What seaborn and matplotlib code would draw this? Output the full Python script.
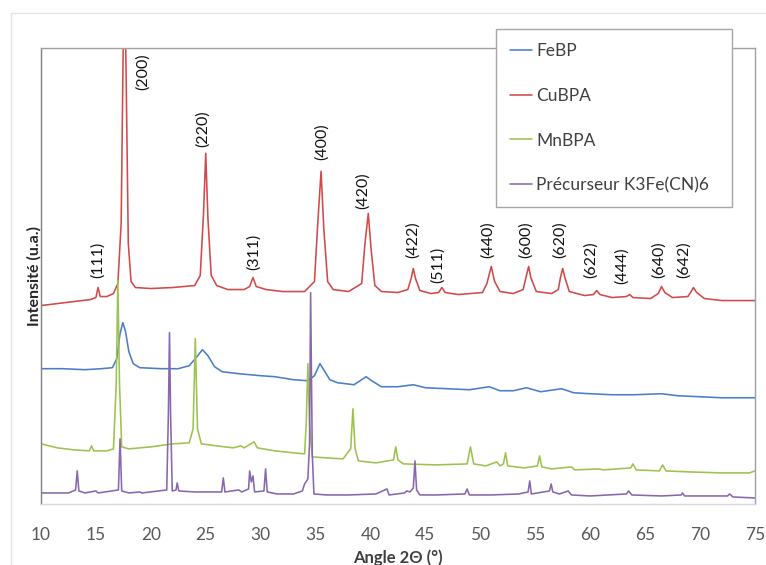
import matplotlib
matplotlib.use("Agg")
import matplotlib.pyplot as plt
from matplotlib.patches import Rectangle
import seaborn as sns
import pandas as pd

# ---------------- data ----------------
series_names = ["FeBP", "CuBPA", "MnBPA", "Précurseur K3Fe(CN)6"]
series_colors = ["#4A7EC7", "#D2494A", "#9DC24E", "#8867AE"]

febp_x = [10, 12, 14, 15.5, 16.5, 16.9, 17.2, 17.45, 17.7, 18.0, 18.4, 19, 21, 22.5, 23.5, 24.2, 24.7,
          25.2, 25.8, 26.5, 28, 30, 31.3, 33, 34.3, 34.9, 35.4, 35.8, 36.3, 37, 38.5, 39.2, 39.6, 40.1,
          41, 42.5, 43.9, 45, 47, 49, 50.8, 51.8, 53, 54.2, 55.5, 57.4, 58.5, 60, 62, 64, 66.5, 68, 70, 72, 75]
febp_y = [135, 135, 134, 135, 136, 145, 170, 181, 172, 152, 140, 136, 135, 135, 138, 147, 154,
          148, 137, 132, 130, 128, 127, 124, 123, 128, 140, 133, 124, 121, 119, 124, 127, 123,
          117, 117, 119, 116, 115, 114, 117, 113, 113, 116, 112, 115, 111, 110, 109, 109, 110, 108, 107, 106, 106]

cubpa_x = [10.0, 11.5, 13.0, 14.5, 15.0, 15.2, 15.4, 16.0, 16.6, 17.0, 17.3, 17.5, 17.6, 17.75, 17.95,
           18.2, 18.6, 20, 22, 24.0, 24.5, 24.8, 25.0, 25.2, 25.5, 26.0, 27, 28.5, 29.0, 29.3, 29.6,
           30.5, 32, 34, 34.9, 35.2, 35.5, 35.75, 36.1, 36.6, 38, 39.2, 39.5, 39.8, 40.05, 40.4, 41,
           42.5, 43.4, 43.7, 43.9, 44.1, 44.5, 45.5, 46.2, 46.5, 46.8, 48, 50.2, 50.6, 51.0, 51.3,
           51.8, 53, 53.9, 54.2, 54.4, 54.6, 55.1, 56.5, 57.1, 57.3, 57.5, 57.7, 58.1, 59.5, 60.3,
           60.6, 60.9, 62, 63.3, 63.6, 63.9, 65.5, 66.2, 66.5, 66.8, 67.5, 68.9, 69.2, 69.4, 69.7,
           70.4, 72, 75]
cubpa_y = [198, 200, 202, 204, 206, 216, 207, 207, 210, 220, 280, 470, 540, 430, 260,
           222, 216, 215, 216, 218, 228, 290, 350, 285, 228, 218, 214, 214, 217, 226, 217,
           214, 212, 212, 222, 280, 332, 275, 222, 214, 212, 220, 260, 290, 255, 218, 212,
           211, 214, 225, 235, 225, 213, 210, 211, 216, 211, 209, 211, 220, 237, 222,
           212, 210, 214, 228, 237, 226, 212, 210, 214, 226, 235, 226, 212, 208, 209,
           213, 209, 206, 207, 209, 206, 205, 210, 217, 211, 206, 207, 212, 216, 211,
           205, 203, 203]

mnbpa_x = [10, 11.5, 13, 14.4, 14.6, 14.8, 16.0, 16.6, 16.85, 17.0, 17.15, 17.35, 18, 20, 22, 23.5,
           23.85, 24.05, 24.25, 24.6, 26, 27.5, 28.2, 28.5, 29.4, 29.7, 31.3, 33, 34.0, 34.15, 34.3,
           34.45, 34.7, 36, 37.5, 38.2, 38.4, 38.6, 38.9, 40.5, 42.1, 42.3, 42.5, 43, 46, 48.8, 49.1,
           49.4, 50.5, 51.5, 51.8, 52.1, 52.3, 52.5, 54, 55.2, 55.4, 55.6, 56.5, 58.3, 58.6, 60.8,
           61.2, 63.7, 63.9, 64.2, 66.3, 66.6, 66.9, 69, 72, 74.5, 75]
mnbpa_y = [60, 56, 54, 53, 58, 53, 53, 55, 120, 223, 120, 57, 55, 57, 60, 61,
           75, 165, 75, 60, 58, 56, 58, 56, 62, 56, 53, 51, 50, 80, 140,
           80, 47, 46, 45, 55, 95, 55, 43, 41, 44, 57, 44, 40, 39, 40, 57,
           40, 38, 42, 38, 40, 51, 38, 36, 38, 48, 37, 35, 37, 34, 35,
           34, 36, 40, 34, 33, 39, 33, 32, 31, 31, 33]

prec_x = [10, 12.5, 13.15, 13.3, 13.45, 14, 15, 15.2, 17.05, 17.2, 17.35, 18, 19, 19.2, 21.45, 21.6,
          21.7, 21.8, 21.95, 22.3, 22.4, 22.55, 24, 26.45, 26.6, 26.75, 28, 28.3, 28.9, 29.0, 29.15,
          29.3, 29.45, 30.3, 30.45, 30.6, 31.5, 33, 33.8, 34.0, 34.3, 34.45, 34.55, 34.7, 34.85, 36,
          38, 40.5, 41.5, 41.7, 43.1, 43.3, 43.6, 43.9, 44.05, 44.2, 44.5, 46, 48.6, 48.8, 49.0, 51,
          53.5, 54.35, 54.5, 54.65, 56.3, 56.45, 56.6, 57.2, 58, 58.3, 60, 63.3, 63.5, 63.8, 66.5,
          68.3, 68.4, 68.6, 72.5, 72.7, 73, 75]
prec_y = [11, 11, 14, 33, 13, 11, 13, 11, 14, 65, 13, 11, 12, 11, 14, 90,
          171, 90, 13, 14, 21, 13, 12, 12, 26, 12, 14, 12, 15, 33, 22,
          28, 12, 13, 35, 12, 10, 10, 13, 20, 25, 60, 211, 50, 10, 9,
          9, 10, 15, 9, 11, 13, 12, 16, 43, 14, 9, 9, 10, 15, 9, 9,
          10, 12, 23, 10, 13, 20, 12, 10, 13, 9, 8, 10, 13, 9, 8,
          9, 11, 8, 8, 10, 7, 6]

peak_labels = ["(111)", "(200)", "(220)", "(311)", "(400)", "(420)", "(422)", "(511)",
               "(440)", "(600)", "(620)", "(622)", "(444)", "(640)", "(642)"]
label_x = [15.18, 19.27, 24.73, 29.36, 35.55, 39.27, 43.82, 46.09,
           50.64, 54.18, 57.27, 60.09, 62.91, 66.27, 68.55]
label_y = [226, 413, 356, 233, 343, 294, 245, 221,
           245, 245, 245, 226, 220, 226, 226]

x_ticks = [10, 15, 20, 25, 30, 35, 40, 45, 50, 55, 60, 65, 70, 75]

# ---------------- build table ----------------
frames = []
for name, xs, ys in zip(series_names,
                        [febp_x, cubpa_x, mnbpa_x, prec_x],
                        [febp_y, cubpa_y, mnbpa_y, prec_y]):
    frames.append(pd.DataFrame({"angle": xs, "intensity": ys, "serie": name}))
df = pd.concat(frames, ignore_index=True)

# ---------------- figure ----------------
sns.set_theme(style="white")
plt.rcParams["font.family"] = ["Lato", "DejaVu Sans"]

fig = plt.figure(figsize=(7.66, 5.65), dpi=100)
ax = fig.add_axes([0.0535, 0.108, 0.932, 0.807])

sns.lineplot(data=df, x="angle", y="intensity", hue="serie", hue_order=series_names,
             palette=dict(zip(series_names, series_colors)), estimator=None, sort=False,
             linewidth=1.15, ax=ax)

ax.set_xlim(10, 75)
ax.set_ylim(0, 455)
ax.set_xticks(x_ticks)
ax.set_xticklabels([str(t) for t in x_ticks])
ax.set_yticks([])
ax.tick_params(axis="x", length=0, pad=16.5, labelsize=12.5, labelcolor="#595959")

ax.set_xlabel("Angle 2Θ (°)", fontsize=12, fontweight="bold", color="#404040", labelpad=4.5)
ax.set_ylabel("Intensité (u.a.)", fontsize=11.5, fontweight="bold", color="#262626", labelpad=-0.5)

ax.spines["left"].set_color("#808080")
ax.spines["bottom"].set_color("#D9D9D9")
ax.spines["top"].set_color("#A0A0A0")
ax.spines["right"].set_color("#A0A0A0")
for s in ax.spines.values():
    s.set_linewidth(1.0)

for txt, lx, ly in zip(peak_labels, label_x, label_y):
    ax.text(lx, ly, txt, rotation=90, ha="center", va="bottom", fontsize=11.5,
            color="#111111", clip_on=False)

handles, labels = ax.get_legend_handles_labels()
ax.get_legend().remove()
leg = fig.legend(handles, labels, loc="upper left",
                 bbox_to_anchor=(0.6475, 0.9487, 0.308, 0.0), mode="expand", borderaxespad=0,
                 frameon=True, fancybox=False, framealpha=1, edgecolor="#A6A6A6",
                 fontsize=12.5, labelspacing=1.66, borderpad=0.8, handlelength=1.25,
                 handletextpad=0.25, labelcolor="#404040")
leg.get_frame().set_linewidth(1.0)
leg.set_zorder(10)

fig.patches.append(Rectangle((0.014, -0.1), 1.2, 1.077, transform=fig.transFigure,
                             fill=False, edgecolor="#E3E3E3", linewidth=1.0))

fig.savefig("out.png", dpi=100)
